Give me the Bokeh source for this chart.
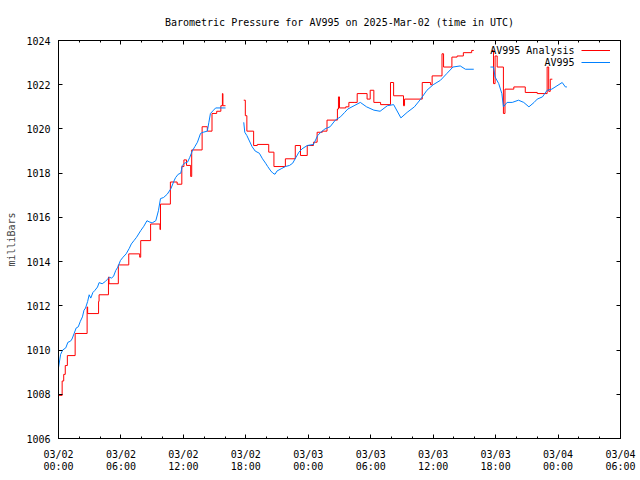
import math
from bokeh.plotting import figure
from bokeh.models import FixedTicker, LinearAxis, Range1d, Legend, LegendItem, Label
from bokeh.embed import file_html
from bokeh.resources import INLINE

TITLE = "Barometric Pressure for AV995 on 2025-Mar-02 (time in UTC)"
Y_LABEL = "milliBars"
SERIES_NAMES = ["AV995 Analysis", "AV995"]

# hours since 2025-03-02 00:00 UTC
X_TICKS = [0, 6, 12, 18, 24, 30, 36, 42, 48, 54]
X_TICK_LABELS = ["03/02\n00:00", "03/02\n06:00", "03/02\n12:00", "03/02\n18:00",
                 "03/03\n00:00", "03/03\n06:00", "03/03\n12:00", "03/03\n18:00",
                 "03/04\n00:00", "03/04\n06:00"]
X_MINOR_TICKS = [0, 2, 4, 6, 8, 10, 12, 14, 16, 18, 20, 22, 24, 26, 28, 30, 32, 34,
                 36, 38, 40, 42, 44, 46, 48, 50, 52, 54]
Y_TICKS = [1006, 1008, 1010, 1012, 1014, 1016, 1018, 1020, 1022, 1024]

NAN = float("nan")

# AV995 observations (NaN marks a data gap)
obs_hours = [0.0, 0.2, 0.4, 0.7, 0.9, 1.15, 1.3, 1.5, 1.7, 1.9, 2.1, 2.3, 2.45, 2.6, 2.8,
             2.95, 3.1, 3.3, 3.5, 3.75, 3.9, 4.2, 4.5, 4.7, 4.9, 5.1, 5.3, 5.5, 5.7, 5.95,
             6.2, 6.5, 6.8, 7.0, 7.25, 7.5, 7.9, 8.2, 8.5, 8.7, 9.0, 9.35, 9.6, 9.8, 10.1,
             10.45, 10.8, 11.1, 11.25, 11.5, 11.75, 11.9, 12.1, 12.4, 12.6, 12.85, 13.1,
             13.35, 13.65, 13.9, 14.3, 14.45, 14.6, 14.9, 15.1, 16.05,
             16.9,
             17.8, 17.9, 18.1, 18.3, 18.6, 18.9, 19.3, 19.6, 19.9, 20.1, 20.4, 20.6, 20.8,
             21.0, 21.4, 21.8, 22.2, 22.5, 22.8, 23.1, 23.4, 23.9, 24.5, 24.9, 25.2, 25.6,
             26.1, 26.6, 27.1, 27.5, 27.8, 28.4, 29.0, 29.6, 30.3, 30.9, 31.6, 32.2, 32.9,
             33.5, 34.2, 34.8, 35.4, 36.0, 36.7, 37.3, 37.9, 38.6, 39.1, 39.9,
             40.7,
             41.5, 41.8, 41.95, 42.3, 42.6, 42.75, 43.1, 43.6, 44.2, 44.7, 45.2, 45.7,
             46.0, 46.5, 46.95, 47.4, 47.9, 48.4, 48.7, 48.85]
obs_mbar = [1009.2, 1009.8, 1010.0, 1010.1, 1010.35, 1010.4, 1010.5, 1010.75, 1011.0,
            1011.05, 1011.3, 1011.5, 1011.8, 1011.9, 1012.2, 1012.5, 1012.35, 1012.6,
            1012.7, 1012.85, 1013.05, 1013.0, 1013.1, 1013.2, 1013.3, 1013.25, 1013.35,
            1013.6, 1013.75, 1014.05, 1014.2, 1014.35, 1014.6, 1014.8, 1014.95, 1015.1,
            1015.4, 1015.6, 1015.85, 1015.8, 1015.75, 1015.85, 1016.3, 1016.85, 1016.9,
            1017.05, 1017.3, 1017.65, 1017.8, 1017.95, 1018.0, 1018.35, 1018.45, 1018.5,
            1018.7, 1019.0, 1019.2, 1019.4, 1019.8, 1019.85, 1019.9, 1020.3, 1020.7,
            1020.85, 1020.95, 1020.95,
            NAN,
            1020.3, 1019.85, 1019.7, 1019.5, 1019.2, 1019.0, 1018.9, 1018.65, 1018.45,
            1018.3, 1018.1, 1018.0, 1017.95, 1018.1, 1018.2, 1018.3, 1018.35, 1018.45,
            1018.7, 1018.95, 1019.1, 1019.25, 1019.3, 1019.7, 1019.85, 1020.0, 1020.1,
            1020.4, 1020.55, 1020.75, 1020.9, 1021.05, 1021.2, 1021.0, 1020.85, 1020.8,
            1021.05, 1021.1, 1020.5, 1020.75, 1021.0, 1021.35, 1021.75, 1022.0, 1022.2,
            1022.5, 1022.8, 1022.85, 1022.7, 1022.7,
            NAN,
            1022.8, 1022.8, 1022.35, 1022.05, 1021.6, 1021.0, 1021.2, 1021.2, 1021.3,
            1021.2, 1021.0, 1021.2, 1021.35, 1021.45, 1021.75, 1021.8, 1021.95, 1022.1,
            1021.9, 1021.9]

# AV995 Analysis (stepped), NaN marks a gap
ana_hours = [0.0, 0.35, 0.5, 0.65, 0.85, 1.6, 2.75, 2.8, 3.85, 3.9, 4.8, 4.85, 5.75,
             6.75, 7.8, 7.9, 8.85, 9.75, 9.8, 10.75, 11.4, 11.85, 12.05, 12.3, 12.7,
             12.8, 13.8, 14.3, 14.75, 15.2, 15.6, 15.75, 15.8, 16.05,
             16.9,
             17.8, 17.95, 18.1, 18.75, 19.1, 20.2, 20.7, 21.8, 22.75, 23.25, 23.9, 24.5,
             24.85, 25.35, 25.8, 26.8, 26.9, 27.0, 27.6, 27.9, 28.4, 28.7, 29.65, 29.95,
             30.3, 30.95, 31.9, 32.2, 33.15, 33.25, 34.95, 35.75, 35.9, 36.85, 37.0, 37.8,
             38.3, 38.9, 39.7, 39.9,
             40.7,
             41.65, 41.8, 41.95, 42.15, 42.75, 42.9, 43.75, 44.85, 46.0, 46.95, 47.1,
             47.25, 47.45]
ana_mbar = [1007.95, 1008.6, 1008.9, 1009.3, 1009.75, 1010.75, 1011.95, 1011.65,
            1012.2, 1012.5, 1013.3, 1013.0, 1013.85, 1014.35, 1014.2, 1014.95, 1015.7,
            1015.45, 1016.6, 1017.6, 1017.5, 1018.3, 1018.6, 1018.35, 1017.85, 1019.05,
            1020.1, 1019.9, 1020.7, 1020.8, 1021.05, 1021.6, 1021.05, 1021.05,
            NAN,
            1021.3, 1020.6, 1019.9, 1019.25, 1019.3, 1018.95, 1018.3, 1018.65, 1019.25,
            1018.8, 1019.25, 1019.4, 1019.85, 1019.9, 1020.4, 1020.9, 1021.45, 1020.95,
            1021.0, 1021.2, 1021.2, 1021.6, 1021.35, 1021.75, 1021.2, 1021.1, 1022.1,
            1021.5, 1021.05, 1021.35, 1022.1, 1022.0, 1022.4, 1023.4, 1022.8, 1023.25,
            1023.3, 1023.45, 1023.55, 1023.55,
            NAN,
            1023.55, 1022.05, 1023.3, 1022.8, 1020.7, 1021.8, 1021.9, 1021.65, 1021.6,
            1022.8, 1021.7, 1022.25, 1022.25]

RED = "#ff0000"
BLUE = "#0080ff"
FONT = "DejaVu Sans Mono"


def segments(xs, ys):
    segs, cx, cy = [], [], []
    for x, y in zip(xs, ys):
        if math.isnan(y):
            if cx:
                segs.append((cx, cy))
            cx, cy = [], []
        else:
            cx.append(x)
            cy.append(y)
    if cx:
        segs.append((cx, cy))
    return segs


p = figure(width=640, height=480, output_backend="svg", toolbar_location=None,
           x_range=Range1d(0, 54), y_range=Range1d(1006, 1024),
           min_border_left=58, min_border_right=20, min_border_top=40,
           min_border_bottom=42, background_fill_color="white",
           border_fill_color="white")
p.grid.visible = False
p.outline_line_color = "black"
p.outline_line_width = 1

p.title.text = TITLE
p.title.align = "center"
p.title.text_font = FONT
p.title.text_font_style = "normal"
p.title.text_font_size = "10px"
p.title.text_color = "black"
p.title.standoff = 25

x_ticker = FixedTicker(ticks=X_TICKS, minor_ticks=X_MINOR_TICKS)
y_ticker = FixedTicker(ticks=Y_TICKS, minor_ticks=[])


def style_axis(ax):
    ax.axis_line_color = "black"
    ax.major_tick_line_color = "black"
    ax.minor_tick_line_color = "black"
    ax.major_tick_in = 4
    ax.major_tick_out = 0
    ax.minor_tick_in = 2
    ax.minor_tick_out = 0
    ax.major_label_text_font = FONT
    ax.major_label_text_font_size = "10px"
    ax.major_label_text_color = "black"


xa = p.xaxis[0]
xa.ticker = x_ticker
xa.major_label_overrides = dict(zip(X_TICKS, X_TICK_LABELS))
style_axis(xa)
xa.major_label_standoff = 10
xa.major_label_text_line_height = 1.15

ya = p.yaxis[0]
ya.ticker = y_ticker
style_axis(ya)
ya.minor_tick_line_color = None
ya.major_label_standoff = 8
ya.axis_label = Y_LABEL
ya.axis_label_text_font = FONT
ya.axis_label_text_font_style = "normal"
ya.axis_label_text_font_size = "10px"
ya.axis_label_standoff = 6

top = LinearAxis(ticker=x_ticker, major_label_overrides={t: "" for t in X_TICKS})
style_axis(top)
top.major_label_text_font_size = "1px"
top.major_label_standoff = 0
p.add_layout(top, "above")

right = LinearAxis(ticker=y_ticker, major_label_overrides={t: "" for t in Y_TICKS})
style_axis(right)
right.minor_tick_line_color = None
right.major_label_text_font_size = "1px"
right.major_label_standoff = 0
p.add_layout(right, "right")

red_renderers = []
for xs, ys in segments(ana_hours, ana_mbar):
    red_renderers.append(p.step(xs, ys, mode="after", line_color=RED, line_width=1))
blue_renderers = []
for xs, ys in segments(obs_hours, obs_mbar):
    blue_renderers.append(p.line(xs, ys, line_color=BLUE, line_width=1))

legend = Legend(items=[LegendItem(label=" ", renderers=[red_renderers[0]]),
                       LegendItem(label=" ", renderers=[blue_renderers[0]])],
                location=(523, 370), orientation="vertical",
                glyph_width=29, glyph_height=12, label_width=0, label_height=12,
                label_standoff=0, spacing=0, padding=0, margin=0,
                border_line_color=None, background_fill_alpha=0,
                label_text_font_size="1px")
p.add_layout(legend, "center")

for name, ypos in zip(SERIES_NAMES, [388, 376]):
    p.add_layout(Label(x=516, y=ypos, x_units="screen", y_units="screen", text=name,
                       text_align="right", text_baseline="middle",
                       text_font=FONT, text_font_size="10px",
                       text_color="black"))

open("out.html", "w").write(file_html(p, INLINE))
